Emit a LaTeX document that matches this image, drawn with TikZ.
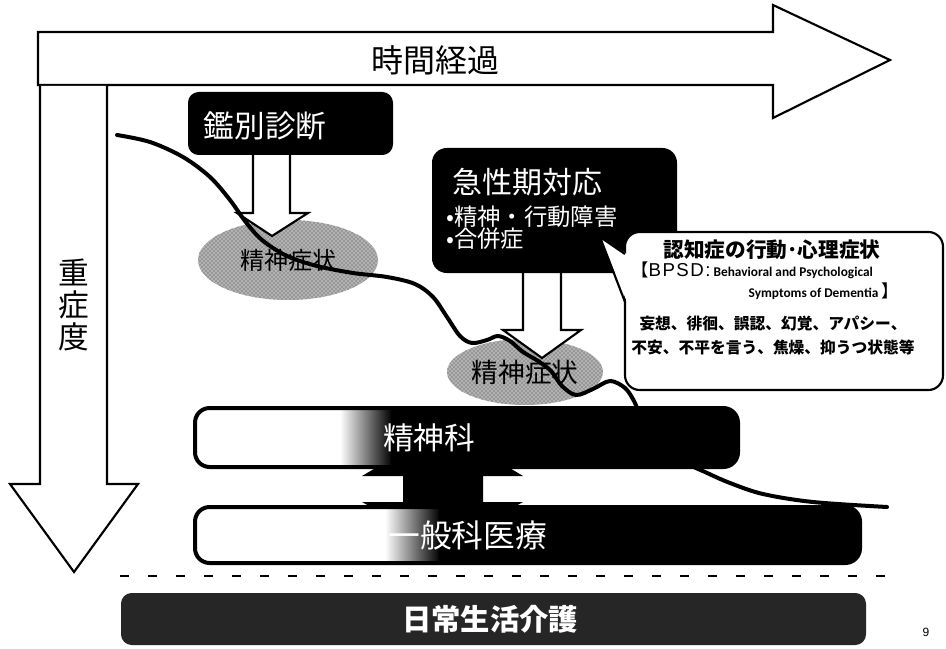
\documentclass[tikz,border=0pt]{standalone}
\usepackage{fontspec}
\setmainfont{Noto Sans CJK JP}
\newfontfamily\cali{Carlito}
\newfontfamily\lib{Liberation Sans}
\usetikzlibrary{shapes.geometric,patterns}
\begin{document}
\begin{tikzpicture}[x=0.75pt,y=-0.75pt,
  outl/.style={draw=black,line width=1.6pt,fill=white,line join=miter},
  bbox/.style={fill=black,rounded corners=8pt},
  wtxt/.style={text=white,inner sep=0pt},
  btxt/.style={text=black,inner sep=0pt},
  dotell/.style={ellipse,draw=none,preaction={fill=black!30},pattern=crosshatch dots,pattern color=black!75,inner sep=0pt},
  curve/.style={line width=3pt,line cap=round,line join=round},
  barline/.style={draw=black,line width=3pt,rounded corners=11pt},
]
\useasboundingbox (0,0) rectangle (946,649);
\fill[white] (0,0) rectangle (946,649);

% horizontal arrow (time)
\draw[outl] (38,32) -- (773,32) -- (773,5) -- (890,60) -- (773,118) -- (773,85) -- (38,85) -- cycle;
\node[btxt,font=\fontsize{24}{24}\selectfont] (time) at (435,60) {時間経過};

% vertical arrow (severity)
\fill[white] (40,86) -- (40,484) -- (10,484) -- (74,572) -- (138,484) -- (107,484) -- (107,86) -- cycle;
\draw[line width=1.6pt,line join=miter] (40,86) -- (40,484) -- (10,484) -- (74,572) -- (138,484) -- (107,484) -- (107,86);
\node[btxt,font=\fontsize{23}{24}\selectfont,align=center] (sev) at (74,305) {重\\症\\度};

% dotted ellipses
\node[dotell,minimum width=135pt,minimum height=60pt,font=\fontsize{18}{18}\selectfont] (e1) at (288,260) {精神症状};
\node[dotell,minimum width=117pt,minimum height=49.5pt,font=\fontsize{20}{20}\selectfont] (e2) at (525,372) {精神症状};

% block arrows from boxes
\draw[outl] (253,150) -- (253,213) -- (237,213) -- (272,236) -- (308,213) -- (290,213) -- (290,150);
\draw[outl] (523,268) -- (523,330) -- (503,330) -- (542,358) -- (581,330) -- (561,330) -- (561,268);

% boxes
\fill[bbox] (188,92) rectangle (393,155);
\node[wtxt,font=\fontsize{23}{23}\selectfont] (kanbetsu) at (265,126) {鑑別診断};
\fill[bbox,rounded corners=11pt] (432,148) rectangle (677,273);
\node[wtxt,anchor=west,font=\fontsize{22.5}{22.5}\selectfont] (kyusei) at (452,182) {急性期対応};
\node[wtxt,anchor=west,font=\fontsize{17.5}{17.5}\selectfont] (k1) at (446,217) {•精神・行動障害};
\node[wtxt,anchor=west,font=\fontsize{17.5}{17.5}\selectfont] (k2) at (446,239) {•合併症};

% severity curve
\draw[curve] plot[smooth,tension=0.55] coordinates {
 (117,135) (150,142) (183,157) (210,177) (230,200) (245,221) (262,240)
 (287,256) (317,266) (353,273) (387,277) (415,284) (433,297) (447,317)
 (460,336) (472,343) (487,340) (498,336) (510,341) (523,352) (538,361)
 (551,371) (562,386) (576,395) (593,389) (610,381) (625,388) (634,401)
 (641,416) (660,440) (685,462) (705,472) (730,483) (763,494) (813,502) (887,507)};

% callout BPSD
\draw[line width=1.6pt,fill=white,rounded corners=11pt] (625,232) rectangle (943,390);
\fill[white] (627,254) -- (600,237) -- (627,302) -- cycle;
\draw[line width=1.6pt,line join=miter] (625,254) -- (600,237) -- (625,302);
\node[btxt,font=\bfseries\fontsize{15.5}{15.5}\selectfont] (c1) at (772,250) {認知症の行動･心理症状};
\node[btxt,anchor=west] (c2) at (631,270) {{\fontsize{13}{13}\selectfont 【}{\lib\fontsize{14}{14}\selectfont\addfontfeature{LetterSpace=8}BPSD:}{\cali\bfseries\fontsize{10}{10}\selectfont\ Behavioral and Psychological}};
\node[btxt,anchor=east] (c3) at (899,291) {{\cali\bfseries\fontsize{10}{10}\selectfont Symptoms of Dementia }{\fontsize{13}{13}\selectfont 】}};
\node[btxt,font=\bfseries\fontsize{11.8}{11.8}\selectfont] (c4) at (773,324) {妄想、徘徊、誤認、幻覚、アパシー、};
\node[btxt,font=\bfseries\fontsize{11.8}{11.8}\selectfont] (c5) at (773,347) {不安、不平を言う、焦燥、抑うつ状態等};

% double arrow connector between bars (heads hidden behind bars)
\fill[black] (443,428) -- (523,476) -- (483,476) -- (483,502) -- (523,502) -- (443,548) -- (362,502) -- (403,502) -- (403,476) -- (362,476) -- cycle;

% psychiatric bar
\begin{scope}
\clip[rounded corners=11pt] (195,408) rectangle (738,467);
\fill[white] (195,408) rectangle (340,467);
\shade[left color=white,right color=black] (340,408) rectangle (392,467);
\fill[black] (391,408) rectangle (738,467);
\end{scope}
\draw[barline] (195,408) rectangle (738,467);
\node[wtxt,anchor=west,font=\fontsize{23}{23}\selectfont] (seishinka) at (383,438) {精神科};

% general medicine bar
\begin{scope}
\clip[rounded corners=11pt] (195,507) rectangle (860,563);
\fill[white] (195,507) rectangle (385,563);
\shade[left color=white,right color=black] (385,507) rectangle (440,563);
\fill[black] (439,507) rectangle (860,563);
\end{scope}
\draw[barline] (195,507) rectangle (860,563);
\node[wtxt,anchor=west,font=\fontsize{23.8}{23.8}\selectfont] (ippan) at (388,535) {一般科医療};

% dashed separator
\coordinate (dl) at (120,576);
\coordinate (dr) at (885,576);
\draw[line width=2.2pt,dash pattern=on 6.5pt off 14.5pt] (dl) -- (dr);

% daily life care box
\fill[black!85,rounded corners=8pt] (121,593) rectangle (866,645);
\node[wtxt,font=\bfseries\fontsize{22}{22}\selectfont] (nichijo) at (490,619) {日常生活介護};

% page number
\node[btxt,font=\lib\fontsize{9}{9}\selectfont] (pg) at (926,632) {9};
\end{tikzpicture}
\end{document}
